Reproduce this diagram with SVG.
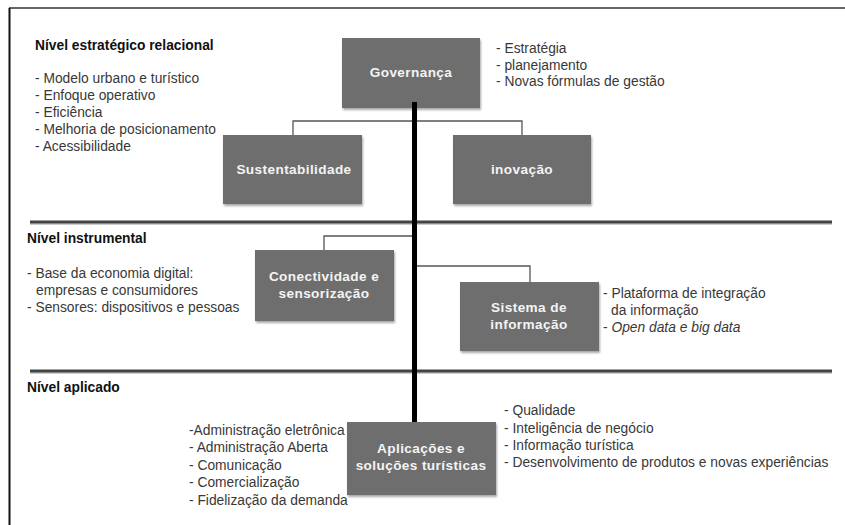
<svg xmlns="http://www.w3.org/2000/svg" width="845" height="525" viewBox="0 0 845 525">
<defs>
<filter id="sh" x="-10%" y="-10%" width="125%" height="130%">
<feGaussianBlur in="SourceAlpha" stdDeviation="1.2"/>
<feOffset dx="1" dy="2" result="b"/>
<feComponentTransfer><feFuncA type="linear" slope="0.35"/></feComponentTransfer>
<feMerge><feMergeNode/><feMergeNode in="SourceGraphic"/></feMerge>
</filter>
</defs>
<style>
.box{fill:#6e6e6e;filter:url(#sh)}
.nt{font-family:"Liberation Sans",Arial,sans-serif;font-size:13.6px;font-weight:bold;fill:#f4f4f4;text-anchor:middle;letter-spacing:0.4px}
.t{font-family:"Liberation Sans",Arial,sans-serif;font-size:13.8px;fill:#383838}
.h{font-family:"Liberation Sans",Arial,sans-serif;font-size:13.8px;font-weight:bold;fill:#111}
.sep{stroke:#444;stroke-width:3;fill:none}
.sep2{stroke:#ccc;stroke-width:2;fill:none}
.con{stroke:#555;stroke-width:1.3;fill:none}
</style>
<rect width="845" height="525" fill="#fff"/>
<line x1="9" y1="8" x2="845" y2="8" stroke="#666" stroke-width="2"/>
<line x1="9.5" y1="8" x2="9.5" y2="525" stroke="#111" stroke-width="2"/>
<g id="separators">
<line class="sep2" x1="30" y1="224" x2="832" y2="224"/>
<line class="sep" x1="30" y1="222" x2="832" y2="222"/>
<line class="sep2" x1="30" y1="373" x2="832" y2="373"/>
<line class="sep" x1="30" y1="371" x2="832" y2="371"/>
</g>
<g id="level-labels">
<text class="h" x="35" y="50">Nível estratégico relacional</text>
<text class="h" x="27" y="243">Nível instrumental</text>
<text class="h" x="27" y="392">Nível aplicado</text>
</g>
<g id="connectors">
<polyline class="con" points="293,135 293,121 522,121 522,135"/>
<polyline class="con" points="324,250 324,236 414,236"/>
<polyline class="con" points="414,266 530,266 530,282"/>
</g>
<g id="governanca">
<rect class="box" x="342" y="38" width="138" height="70"/>
<text class="nt" x="411" y="77">Governança</text>
</g>
<g id="sustentabilidade">
<rect class="box" x="223" y="135" width="139" height="69"/>
<text class="nt" x="294" y="174">Sustentabilidade</text>
</g>
<g id="inovacao">
<rect class="box" x="453" y="135" width="138" height="69"/>
<text class="nt" x="522" y="174">inovação</text>
</g>
<g id="conectividade">
<rect class="box" x="255" y="250" width="139" height="71"/>
<text class="nt" x="324" y="281">Conectividade e</text>
<text class="nt" x="324" y="298">sensorização</text>
</g>
<g id="sistema">
<rect class="box" x="460" y="282" width="139" height="69"/>
<text class="nt" x="529" y="312">Sistema de</text>
<text class="nt" x="529" y="329">informação</text>
</g>
<g id="aplicacoes">
<rect class="box" x="347" y="422" width="149" height="73"/>
<text class="nt" x="421" y="453">Aplicações e</text>
<text class="nt" x="421" y="470">soluções turísticas</text>
</g>
<g id="spine">
<line x1="414.5" y1="102" x2="414.5" y2="422" stroke="#000" stroke-width="5"/>
</g>
<g id="notes">
<text class="t" x="35" y="83">- Modelo urbano e turístico</text>
<text class="t" x="35" y="100">- Enfoque operativo</text>
<text class="t" x="35" y="117">- Eficiência</text>
<text class="t" x="35" y="134">- Melhoria de posicionamento</text>
<text class="t" x="35" y="151">- Acessibilidade</text>
<text class="t" x="496" y="53">- Estratégia</text>
<text class="t" x="496" y="70">- planejamento</text>
<text class="t" x="496" y="86">- Novas fórmulas de gestão</text>
<text class="t" x="27" y="278">- Base da economia digital:</text>
<text class="t" x="36" y="295">empresas e consumidores</text>
<text class="t" x="27" y="312">- Sensores: dispositivos e pessoas</text>
<text class="t" x="603" y="298">- Plataforma de integração</text>
<text class="t" x="611" y="315">da informação</text>
<text class="t" x="603" y="332">- <tspan font-style="italic">Open data e big data</tspan></text>
<text class="t" x="189" y="435">-Administração eletrônica</text>
<text class="t" x="189" y="452">- Administração Aberta</text>
<text class="t" x="189" y="470">- Comunicação</text>
<text class="t" x="189" y="487">- Comercialização</text>
<text class="t" x="189" y="505">- Fidelização da demanda</text>
<text class="t" x="504" y="415">- Qualidade</text>
<text class="t" x="504" y="433">- Inteligência de negócio</text>
<text class="t" x="504" y="450">- Informação turística</text>
<text class="t" x="504" y="467">- Desenvolvimento de produtos e novas experiências</text>
</g>
</svg>
